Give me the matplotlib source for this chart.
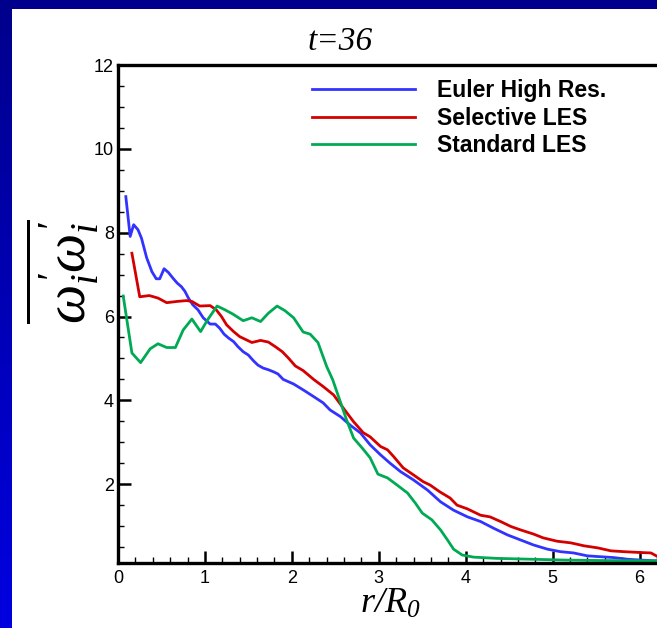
import numpy as np
import matplotlib.pyplot as plt
from matplotlib.patches import Rectangle
from matplotlib.ticker import MultipleLocator

plt.rcParams['mathtext.fontset'] = 'stix'
plt.rcParams['mathtext.rm'] = 'Liberation Serif:italic'
plt.rcParams['mathtext.it'] = 'Liberation Serif:italic'

# Euler High Res.
r_euler = [0.09, 0.14, 0.18, 0.23, 0.27, 0.33, 0.39, 0.44, 0.48, 0.53, 0.58, 0.63, 0.68,
           0.73, 0.77, 0.81, 0.86, 0.92, 0.98, 1.06, 1.12, 1.17, 1.22, 1.27, 1.33, 1.38,
           1.44, 1.50, 1.56, 1.61, 1.67, 1.73, 1.79, 1.84, 1.90, 2.02, 2.13, 2.25, 2.36,
           2.44, 2.56, 2.67, 2.79, 2.90, 3.02, 3.13, 3.25, 3.40, 3.56, 3.71, 3.86, 4.02,
           4.17, 4.32, 4.48, 4.63, 4.78, 4.94, 5.09, 5.24, 5.40, 5.55, 5.70, 5.86, 6.01, 6.21]
w_euler = [8.86, 7.91, 8.19, 8.07, 7.87, 7.40, 7.07, 6.90, 6.90, 7.14, 7.05, 6.92, 6.80,
           6.71, 6.60, 6.44, 6.28, 6.16, 5.97, 5.82, 5.82, 5.72, 5.58, 5.49, 5.40, 5.28,
           5.16, 5.08, 4.94, 4.84, 4.77, 4.73, 4.68, 4.63, 4.50, 4.39, 4.25, 4.09, 3.94,
           3.77, 3.61, 3.41, 3.22, 2.94, 2.70, 2.50, 2.30, 2.10, 1.86, 1.58, 1.38, 1.22,
           1.11, 0.95, 0.79, 0.67, 0.55, 0.45, 0.39, 0.36, 0.29, 0.27, 0.25, 0.21, 0.19, 0.17]

# Selective LES
r_sel = [0.16, 0.25, 0.36, 0.46, 0.56, 0.68, 0.79, 0.85, 0.94, 1.06, 1.13, 1.19, 1.25,
         1.33, 1.40, 1.48, 1.54, 1.64, 1.73, 1.81, 1.89, 1.96, 2.04, 2.13, 2.25, 2.36,
         2.48, 2.59, 2.71, 2.82, 2.90, 3.02, 3.10, 3.17, 3.28, 3.40, 3.51, 3.59, 3.70,
         3.82, 3.90, 4.02, 4.17, 4.28, 4.40, 4.52, 4.63, 4.78, 4.89, 5.05, 5.21, 5.36,
         5.52, 5.67, 5.82, 6.01, 6.13, 6.21]
w_sel = [7.51, 6.47, 6.50, 6.44, 6.33, 6.36, 6.38, 6.36, 6.25, 6.26, 6.16, 6.00, 5.80,
         5.64, 5.52, 5.44, 5.38, 5.43, 5.39, 5.28, 5.16, 5.01, 4.82, 4.71, 4.50, 4.33,
         4.13, 3.82, 3.49, 3.23, 3.13, 2.90, 2.82, 2.66, 2.39, 2.22, 2.06, 1.98, 1.82,
         1.67, 1.50, 1.41, 1.26, 1.22, 1.11, 0.99, 0.91, 0.81, 0.72, 0.64, 0.60, 0.53,
         0.48, 0.41, 0.39, 0.37, 0.36, 0.27]

# Standard LES
r_std = [0.06, 0.16, 0.26, 0.37, 0.46, 0.56, 0.66, 0.75, 0.85, 0.95, 1.03, 1.14, 1.23,
         1.32, 1.44, 1.54, 1.64, 1.73, 1.83, 1.92, 2.02, 2.13, 2.21, 2.30, 2.40, 2.47,
         2.55, 2.63, 2.71, 2.81, 2.90, 2.99, 3.10, 3.21, 3.33, 3.42, 3.50, 3.61, 3.71,
         3.79, 3.86, 3.96, 4.09, 4.36, 4.75, 5.13, 5.52, 6.21]
w_std = [6.49, 5.13, 4.90, 5.23, 5.35, 5.26, 5.26, 5.68, 5.94, 5.64, 5.92, 6.25, 6.16,
         6.06, 5.90, 5.97, 5.88, 6.08, 6.25, 6.14, 5.97, 5.63, 5.58, 5.38, 4.81, 4.49,
         4.01, 3.53, 3.10, 2.86, 2.63, 2.24, 2.15, 1.98, 1.79, 1.55, 1.31, 1.15, 0.91,
         0.67, 0.45, 0.31, 0.26, 0.23, 0.21, 0.19, 0.18, 0.17]

W, H = 657, 628
fig = plt.figure(figsize=(W / 100, H / 100), dpi=100)

# blue slide background with white panel
bg = fig.add_axes([0, 0, 1, 1])
grad = np.linspace(0, 1, 256).reshape(-1, 1)
top_c = np.array([0.0, 0.0, 0.55])
bot_c = np.array([0.0, 0.0, 0.88])
img = top_c + grad[..., None] * (bot_c - top_c)
bg.imshow(img, aspect='auto', extent=[0, 1, 0, 1], origin='upper')
bg.add_patch(Rectangle((12 / W, 0), 1, 1 - 9 / H, color='white', lw=0))
bg.set_xlim(0, 1)
bg.set_ylim(0, 1)
bg.axis('off')

ax = fig.add_axes([118 / W, 1 - 563 / H, 1 - 118 / W, (563 - 65) / H])
ax.plot(r_euler, w_euler, color='#3333ff', lw=2, label='Euler High Res.')
ax.plot(r_sel, w_sel, color='#d40000', lw=2, label='Selective LES')
ax.plot(r_std, w_std, color='#00aa55', lw=2, label='Standard LES')

ax.set_xlim(0, 6.2)
ax.set_ylim(0.12, 12)
ax.xaxis.set_major_locator(MultipleLocator(1))
ax.xaxis.set_minor_locator(MultipleLocator(0.2))
ax.set_yticks([2, 4, 6, 8, 10, 12])
ax.yaxis.set_minor_locator(MultipleLocator(0.5))
ax.tick_params(which='both', direction='in', top=False, right=False)
ax.tick_params(which='major', length=9, width=1.8, labelsize=13)
ax.tick_params(which='minor', length=4.5, width=1.0)
for lab in ax.get_xticklabels() + ax.get_yticklabels():
    lab.set_family('Liberation Sans')
ax.tick_params(axis='x', pad=5)
ax.tick_params(axis='y', pad=3)
ax.spines['right'].set_visible(False)
for s in ['left', 'bottom', 'top']:
    ax.spines[s].set_linewidth(2.4)

ax.legend(loc='upper left', bbox_to_anchor=(312 / W, 1 - 79 / H), bbox_transform=fig.transFigure,
          frameon=False, handlelength=4.5, handletextpad=0.95, labelspacing=0.2,
          borderpad=0, borderaxespad=0,
          prop={'family': 'Liberation Sans', 'weight': 'bold', 'size': 16.5})

fig.text(340 / W, 1 - 42 / H, 't=36', family='Liberation Serif', style='italic',
         fontsize=24, ha='center', va='center')
fig.text(390 / W, 1 - 603 / H, r'$r/R_{0}$', fontsize=26, ha='center', va='center',
         math_fontfamily='custom')
fig.text(62 / W, 1 - 272 / H, r"$\overline{\omega^{\prime}_{i}\omega^{\prime}_{i}}$",
         fontsize=40, rotation=90, ha='center', va='center', math_fontfamily='custom')

fig.savefig('out.png', dpi=100)
